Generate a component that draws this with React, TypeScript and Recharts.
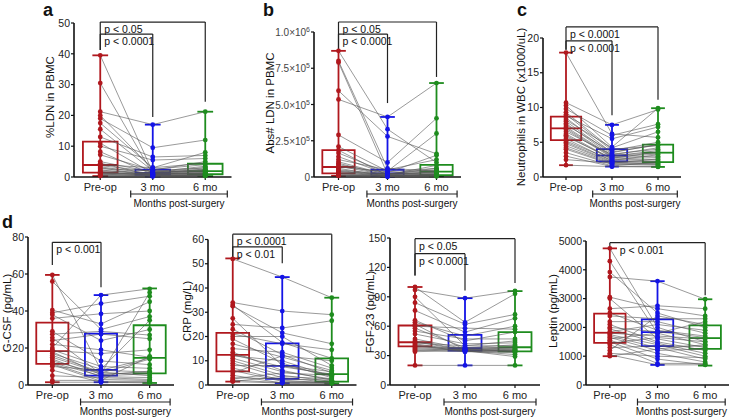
import { ComposedChart, XAxis, YAxis, Scatter, ReferenceLine, ReferenceArea } from 'recharts';

const FONT = '"Liberation Sans", Arial, Helvetica, sans-serif';
const W = 729;
const H = 417;
const X_H = 40;

const TIMEPOINTS = ['Pre-op', '3 mo', '6 mo'];
const COLORS = ['#b0181e', '#1414e6', '#1e8c1e'];
const SUBJECT_LINE = '#555';

// box stats are [min, q1, median, q3, max] for Pre-op, 3 mo, 6 mo

// a: %LDN in PBMC
const ldnPctPre = [39.5, 30.5, 21.2, 20, 19, 17.5, 15.5, 13, 11, 10, 8.2, 7.2, 5, 4.5, 4, 3.7, 3.3, 3, 2.7, 2.3, 2, 1.8, 1.5, 1.3, 1.2, 1, 0.8, 0.6, 0.5, 0.3];
const ldnPct3mo = [1.5, 1.0, 17, 2.5, 9.5, 3, 2, 6.5, 1.2, 5.5, 0.8, 2.2, 1.6, 0.5, 3, 1.8, 1.0, 0.4, 2.0, 0.7, 1.4, 0.3, 1.1, 0.6, 0.9, 0.2, 1.3, 0.5, 0.8, 0.3];
const ldnPct6mo = [3, 2, 21.2, 4, 12, 8, 1.5, 7, 2.5, 6, 1, 5, 3.5, 0.8, 4.5, 2, 1.2, 0.5, 3, 1.8, 1.0, 0.6, 2.2, 0.4, 1.5, 0.3, 2.6, 0.9, 1.1, 0.5];
const ldnPctBox = [[0.3, 1.4, 3.9, 11.5, 39.5], [0.2, 0.7, 1.3, 2.4, 17], [0.3, 0.9, 1.9, 4.3, 21.2]];

// b: Abs# LDN in PBMC
const ldnAbsPre = [870000, 800000, 790000, 595000, 535000, 290000, 210000, 185000, 165000, 140000, 120000, 105000, 95000, 85000, 75000, 70000, 60000, 50000, 45000, 40000, 35000, 30000, 25000, 20000, 15000, 12000, 10000, 8000];
const ldnAbs3mo = [330000, 60000, 20000, 280000, 414000, 100000, 40000, 10000, 30000, 20000, 50000, 15000, 8000, 25000, 12000, 35000, 5000, 18000, 10000, 6000, 22000, 4000, 15000, 9000, 3000, 7000, 12000, 5000];
const ldnAbs6mo = [100000, 40000, 60000, 160000, 648000, 405000, 300000, 20000, 150000, 30000, 120000, 80000, 10000, 50000, 25000, 60000, 15000, 35000, 8000, 20000, 45000, 5000, 30000, 12000, 10000, 18000, 40000, 6000];
const ldnAbsBox = [[8000, 25000, 69000, 186000, 870000], [3000, 8000, 25000, 50000, 414000], [5000, 12000, 37000, 83000, 648000]];

// c: Neutrophils in WBC
const neutPre = [17.9, 10.7, 10.3, 9.8, 9.3, 9.0, 8.8, 8.5, 8.2, 8.0, 7.7, 7.5, 7.2, 7.0, 6.8, 6.5, 6.2, 6.0, 5.8, 5.5, 5.2, 5.0, 4.8, 4.5, 4.2, 4.0, 3.5, 3.0, 2.5, 1.7];
const neut3mo = [6.2, 7.5, 4.3, 6.0, 4.0, 3.8, 5.5, 3.5, 4.2, 3.3, 3.1, 3.6, 3.0, 2.9, 2.8, 3.2, 2.6, 2.5, 2.7, 2.3, 2.4, 2.2, 2.1, 2.0, 1.9, 1.8, 1.6, 1.5, 2.0, 1.5];
const neut6mo = [5.7, 9.7, 9.9, 7.6, 4.5, 5.0, 7.2, 4.7, 6.5, 4.0, 3.5, 4.6, 3.8, 3.3, 3.0, 4.2, 2.8, 2.5, 3.6, 2.3, 3.2, 2.2, 2.0, 2.6, 1.8, 1.7, 2.1, 1.5, 1.9, 1.45];
const neutBox = [[1.7, 5.3, 7.0, 8.7, 17.9], [1.5, 2.25, 3.1, 4.0, 7.5], [1.45, 2.15, 3.5, 4.65, 9.9]];

// d: G-CSF
const gcsfPre = [59.5, 56, 40.5, 39, 38, 36, 29, 27.5, 25.5, 24, 22, 20, 19, 18.5, 18, 17, 16, 15, 14, 13, 12, 11.5, 11, 10, 8, 5, 2.5, 1.5];
const gcsf3mo = [8, 30, 33, 44, 24, 38.5, 13, 29, 6, 27.5, 19, 48.6, 10, 17, 5.5, 8.5, 7, 6.5, 4.5, 6, 5, 3, 2, 8, 1.5, 4, 2.5, 1.5];
const gcsf6mo = [14.5, 37, 45, 48, 30, 40, 11, 27, 6.5, 25, 15, 52, 9, 19, 7.5, 35, 5, 14, 4, 50, 6, 2.5, 2, 7, 1.1, 3, 15.5, 1.5];
const gcsfBox = [[1.5, 11.4, 18.3, 33.7, 59.5], [1.5, 5.1, 8.2, 27.8, 48.6], [1.1, 6.3, 14.7, 32.3, 52.2]];

// d: CRP
const crpPre = [52, 34, 33, 32.5, 27.5, 25, 23, 21, 20, 19, 17, 15, 13.5, 12.5, 12, 11, 10, 9, 8, 7, 6, 5, 4, 3, 2.5, 2, 1.5, 1.4];
const crp3mo = [44.5, 30.5, 17.5, 21.5, 8, 23.5, 12.5, 17, 20, 9, 11.5, 13.5, 6, 7.5, 10, 5.5, 4, 3, 8, 2, 1.5, 12, 0.8, 2.5, 5, 1, 3.5, 0.8];
const crp6mo = [36, 29, 11, 17, 4, 26.5, 5, 14.5, 8, 3, 6, 7, 2, 4.5, 3.5, 2.5, 1.5, 1, 5.5, 0.7, 1.2, 10, 0.7, 2, 4, 1, 2.5, 0.8];
const crpBox = [[1.4, 5.6, 12.4, 21.5, 52.2], [0.8, 2.5, 7.9, 17.2, 44.5], [0.7, 1.4, 4.5, 11, 36]];

// d: FGF-23
const fgfPre = [100, 97, 90, 84, 76, 66, 64, 62, 60, 58, 55, 52, 47, 45, 44, 43, 42, 41, 40, 39, 38, 37, 36, 35, 34, 20];
const fgf3mo = [64, 88.6, 40, 62, 54, 45, 50, 36, 58, 38, 47, 42, 37, 36, 35.5, 40, 35, 34, 35, 38, 36, 35, 34, 37, 35, 20];
const fgf6mo = [93, 96, 45, 72, 68, 54, 60, 38, 57, 41, 47, 43, 36, 37, 35, 40, 34, 33, 31, 38, 35, 29, 36, 39, 34, 20];
const fgfBox = [[20, 39.5, 43.6, 60.7, 100], [20, 35.1, 37.5, 51.1, 88.6], [20, 34.4, 38.5, 53.9, 95.8]];

// d: Leptin
const leptinPre = [4744, 4300, 3920, 3750, 3050, 3000, 2650, 2500, 2400, 2200, 2100, 2000, 1950, 1850, 1800, 1750, 1700, 1650, 1600, 1550, 1500, 1450, 1400, 1300, 1200, 1100, 1050, 1000];
const leptin3mo = [2000, 1800, 2500, 3605, 2650, 1600, 2750, 1900, 2300, 2200, 1500, 1850, 1450, 2100, 1700, 1400, 1300, 1200, 1800, 1100, 900, 1650, 750, 1350, 2400, 1000, 700, 1250];
const leptin6mo = [1500, 1400, 2000, 2977, 2400, 1300, 2650, 1700, 2300, 1800, 1200, 1650, 1100, 1900, 1600, 1000, 900, 1250, 2200, 800, 700, 1500, 750, 1350, 2100, 950, 700, 1400];
const leptinBox = [[1000, 1465, 1814, 2477, 4744], [698, 1349, 1837, 2279, 3605], [674, 1256, 1628, 2070, 2977]];

type Bracket = { from: number; to: number; y: number; leftEnd: number; rightEnd: number; text: string; dx?: number };

type PanelCfg = {
  title: string;
  series: number[][];
  box: number[][];
  yMax: number;
  yTicks: number[];
  brackets: Bracket[];
  sci?: boolean;
  // plot area in page pixels
  left: number;
  right: number;
  top: number;
  bottom: number;
  titleDx: number;
  titleCy: number;
};

const panels: PanelCfg[] = [
  {
    title: '%LDN in PBMC', series: [ldnPctPre, ldnPct3mo, ldnPct6mo], box: ldnPctBox,
    yMax: 50, yTicks: [0, 10, 20, 30, 40, 50],
    brackets: [
      { from: 0, to: 2, y: 50.3, leftEnd: 41.2, rightEnd: 24.4, text: 'p < 0.05' },
      { from: 0, to: 1, y: 46.4, leftEnd: 41.2, rightEnd: 19.5, text: 'p < 0.0001' },
    ],
    left: 74, right: 231.5, top: 23, bottom: 177, titleDx: -24, titleCy: 97,
  },
  {
    title: 'Abs# LDN in PBMC', series: [ldnAbsPre, ldnAbs3mo, ldnAbs6mo], box: ldnAbsBox,
    yMax: 1000000, yTicks: [0, 250000, 500000, 750000, 1000000], sci: true,
    brackets: [
      { from: 0, to: 2, y: 1069000, leftEnd: 876000, rightEnd: 690000, text: 'p < 0.05' },
      { from: 0, to: 1, y: 986000, leftEnd: 876000, rightEnd: 510000, text: 'p < 0.0001' },
    ],
    left: 314, right: 461, top: 32, bottom: 177, titleDx: -44, titleCy: 103,
  },
  {
    title: 'Neutrophils in WBC (x1000/uL)', series: [neutPre, neut3mo, neut6mo], box: neutBox,
    yMax: 20, yTicks: [0, 5, 10, 15, 20],
    brackets: [
      { from: 0, to: 2, y: 21.6, leftEnd: 18.3, rightEnd: 11.1, text: 'p < 0.0001' },
      { from: 0, to: 1, y: 19.6, leftEnd: 18.3, rightEnd: 8.9, text: 'p < 0.0001' },
    ],
    left: 543, right: 681, top: 38, bottom: 177, titleDx: -22, titleCy: 107,
  },
  {
    title: 'G-CSF (pg/mL)', series: [gcsfPre, gcsf3mo, gcsf6mo], box: gcsfBox,
    yMax: 80, yTicks: [0, 20, 40, 60, 80],
    brackets: [{ from: 0, to: 1, y: 77.1, leftEnd: 64.9, rightEnd: 52.8, text: 'p < 0.001' }],
    left: 28, right: 174, top: 237, bottom: 385, titleDx: -21, titleCy: 313,
  },
  {
    title: 'CRP (mg/L)', series: [crpPre, crp3mo, crp6mo], box: crpBox,
    yMax: 60, yTicks: [0, 10, 20, 30, 40, 50, 60],
    brackets: [
      { from: 0, to: 2, y: 62.2, leftEnd: 52.6, rightEnd: 38.2, text: 'p < 0.0001' },
      { from: 0, to: 1, y: 57, leftEnd: 52.6, rightEnd: 50.2, text: 'p < 0.01' },
    ],
    left: 208, right: 356.5, top: 239.5, bottom: 385, titleDx: -21, titleCy: 311,
  },
  {
    title: 'FGF-23 (pg/mL)', series: [fgfPre, fgf3mo, fgf6mo], box: fgfBox,
    yMax: 150, yTicks: [0, 30, 60, 90, 120, 150],
    brackets: [
      { from: 0, to: 2, y: 149.3, leftEnd: 111.8, rightEnd: 104, text: 'p < 0.05' },
      { from: 0, to: 1, y: 134, leftEnd: 111.8, rightEnd: 96.5, text: 'p < 0.0001' },
    ],
    left: 390, right: 540, top: 238, bottom: 385, titleDx: -20, titleCy: 312,
  },
  {
    title: 'Leptin (pg/mL)', series: [leptinPre, leptin3mo, leptin6mo], box: leptinBox,
    yMax: 5000, yTicks: [0, 1000, 2000, 3000, 4000, 5000],
    brackets: [{ from: 0, to: 2, y: 4942, leftEnd: 4744, rightEnd: 3116, text: 'p < 0.001', dx: 10 }],
    left: 586, right: 729, top: 241, bottom: 385, titleDx: -33, titleCy: 311,
  },
];

const LETTERS = [
  { text: 'a', x: 43, y: 16 },
  { text: 'b', x: 263, y: 16 },
  { text: 'c', x: 517, y: 16 },
  { text: 'd', x: 2, y: 228 },
];

const SciTick = (p: any) => {
  const v = p.payload.value;
  const common = { x: p.x, y: p.y, dy: 4, textAnchor: 'end' as const, fontSize: 10, fill: '#444', fontFamily: FONT };
  if (v === 0) return <text {...common}>0</text>;
  const exp = Math.floor(Math.log10(v));
  const mant = (v / Math.pow(10, exp)).toFixed(1);
  return (
    <text {...common}>
      {mant}×10<tspan dy={-4} fontSize={7}>{exp}</tspan>
    </text>
  );
};

const Panel = ({ cfg }: { cfg: PanelCfg }) => {
  const yW = Math.min(45, cfg.left);
  const perPx = cfg.yMax / (cfg.bottom - cfg.top);
  const subjects = cfg.series[0].map((_, i) => cfg.series.map((s, t) => ({ x: t, y: s[i] })));
  const points = cfg.series.map((s, t) => s.map((y) => ({ x: t, y })));
  const mY = -17 * perPx;
  const mT = 3.5 * perPx;
  const ink = '#222';

  return (
    <div style={{ position: 'absolute', left: 0, top: 0 }}>
      <ComposedChart
        width={W}
        height={H}
        margin={{ top: cfg.top, bottom: H - cfg.bottom - X_H, left: cfg.left - yW, right: W - cfg.right }}
      >
        <XAxis
          type="number"
          dataKey="x"
          domain={[-0.5, 2.5]}
          ticks={[0, 1, 2]}
          interval={0}
          tickFormatter={(v: number) => TIMEPOINTS[v]}
          height={X_H}
          axisLine={{ stroke: '#111', strokeWidth: 1.6 }}
          tickLine={{ stroke: '#111', strokeWidth: 1.2 }}
          tickSize={3}
          tickMargin={3}
          tick={{ fontSize: 11, fill: '#222', fontFamily: FONT }}
        />
        <YAxis
          type="number"
          dataKey="y"
          domain={[0, cfg.yMax]}
          ticks={cfg.yTicks}
          interval={0}
          width={yW}
          axisLine={{ stroke: '#111', strokeWidth: 1.6 }}
          tickLine={{ stroke: '#111', strokeWidth: 1.2 }}
          tickSize={3}
          tickMargin={1}
          tick={cfg.sci ? <SciTick /> : { fontSize: 10.5, fill: '#222', fontFamily: FONT }}
          label={{
            content: (p: any) => {
              const vb = p.viewBox || { x: 0, width: 0 };
              const cx = vb.x + vb.width + cfg.titleDx;
              return (
                <text
                  x={cx}
                  y={cfg.titleCy}
                  transform={`rotate(-90 ${cx} ${cfg.titleCy})`}
                  textAnchor="middle"
                  dominantBaseline="central"
                  fontSize={11.5}
                  fill="#111"
                  fontFamily={FONT}
                >
                  {cfg.title}
                </text>
              );
            },
          }}
        />

        {cfg.box.map(([mn, q1, med, q3, mx], t) => (
          <ReferenceArea
            key={`box${t}`}
            x1={t - 0.33}
            x2={t + 0.33}
            y1={q1}
            y2={q3}
            fill="none"
            fillOpacity={0}
            stroke={COLORS[t]}
            strokeWidth={1.8}
            ifOverflow="visible"
          />
        ))}
        {cfg.box.map(([mn, q1, med, q3, mx], t) => (
          <ReferenceLine key={`med${t}`} segment={[{ x: t - 0.33, y: med }, { x: t + 0.33, y: med }]} stroke={COLORS[t]} strokeWidth={1.8} ifOverflow="visible" />
        ))}
        {cfg.box.map(([mn, q1, med, q3, mx], t) => (
          <ReferenceLine key={`wh${t}`} segment={[{ x: t, y: mn }, { x: t, y: mx }]} stroke={COLORS[t]} strokeWidth={1.8} ifOverflow="visible" />
        ))}
        {cfg.box.map(([mn, q1, med, q3, mx], t) => (
          <ReferenceLine key={`cmin${t}`} segment={[{ x: t - 0.15, y: mn }, { x: t + 0.15, y: mn }]} stroke={COLORS[t]} strokeWidth={1.8} ifOverflow="visible" />
        ))}
        {cfg.box.map(([mn, q1, med, q3, mx], t) => (
          <ReferenceLine key={`cmax${t}`} segment={[{ x: t - 0.15, y: mx }, { x: t + 0.15, y: mx }]} stroke={COLORS[t]} strokeWidth={1.8} ifOverflow="visible" />
        ))}

        {subjects.map((s, i) => (
          <Scatter
            key={`subj${i}`}
            data={s}
            line={{ stroke: SUBJECT_LINE, strokeWidth: 0.6 }}
            shape={() => <g />}
            isAnimationActive={false}
          />
        ))}

        {points.map((pts, t) => (
          <Scatter
            key={`pts${t}`}
            data={pts}
            fill={COLORS[t]}
            shape={(p: any) => <circle cx={p.cx} cy={p.cy} r={2.4} fill={COLORS[t]} />}
            isAnimationActive={false}
          />
        ))}

        {cfg.brackets.map((b, i) => (
          <ReferenceLine
            key={`bh${i}`}
            segment={[{ x: b.from, y: b.y }, { x: b.to, y: b.y }]}
            stroke={ink}
            strokeWidth={1.2}
            ifOverflow="visible"
            label={{
              content: (p: any) => {
                const vb = p.viewBox || { x: 0, y: 0 };
                return (
                  <text x={vb.x + (b.dx ?? 4)} y={vb.y + 7} dominantBaseline="central" fontSize={10.5} fill="#111" fontFamily={FONT}>
                    {b.text}
                  </text>
                );
              },
            }}
          />
        ))}
        {cfg.brackets.map((b, i) => (
          <ReferenceLine key={`bl${i}`} segment={[{ x: b.from, y: b.y }, { x: b.from, y: b.leftEnd }]} stroke={ink} strokeWidth={1.2} ifOverflow="visible" />
        ))}
        {cfg.brackets.map((b, i) => (
          <ReferenceLine key={`br${i}`} segment={[{ x: b.to, y: b.y }, { x: b.to, y: b.rightEnd }]} stroke={ink} strokeWidth={1.2} ifOverflow="visible" />
        ))}

        <ReferenceLine
          segment={[{ x: 0.58, y: mY }, { x: 2.42, y: mY }]}
          stroke={ink}
          strokeWidth={1.2}
          ifOverflow="visible"
          label={{
            content: (p: any) => {
              const vb = p.viewBox || { x: 0, y: 0, width: 0 };
              return (
                <text x={vb.x + vb.width / 2} y={vb.y + 9} textAnchor="middle" dominantBaseline="central" fontSize={10} fill="#111" fontFamily={FONT}>
                  Months post-surgery
                </text>
              );
            },
          }}
        />
        <ReferenceLine segment={[{ x: 0.58, y: mY - mT }, { x: 0.58, y: mY + mT }]} stroke={ink} strokeWidth={1.2} ifOverflow="visible" />
        <ReferenceLine segment={[{ x: 2.42, y: mY - mT }, { x: 2.42, y: mY + mT }]} stroke={ink} strokeWidth={1.2} ifOverflow="visible" />
      </ComposedChart>
    </div>
  );
};

export default function App() {
  return (
    <div style={{ position: 'absolute', left: 0, top: 0, width: W, height: H, background: '#fff', overflow: 'hidden', fontFamily: FONT }}>
      {panels.map((cfg, i) => (
        <Panel key={i} cfg={cfg} />
      ))}
      <svg width={W} height={H} style={{ position: 'absolute', left: 0, top: 0, pointerEvents: 'none' }}>
        {LETTERS.map((l) => (
          <text key={l.text} x={l.x} y={l.y} fontSize={18} fontWeight="bold" fill="#111" fontFamily={FONT}>
            {l.text}
          </text>
        ))}
      </svg>
    </div>
  );
}
